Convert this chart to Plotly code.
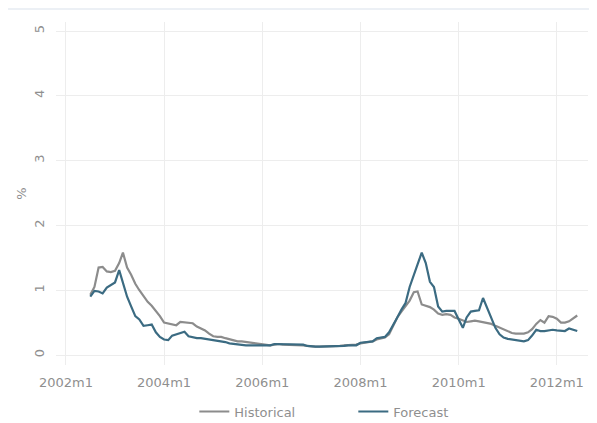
import plotly.graph_objects as go
import pandas as pd

start_month = "2002-07-01"
n_months = 120

historical = [
    0.93, 1.05, 1.35, 1.36, 1.29, 1.28, 1.30, 1.42, 1.58, 1.35,
    1.24, 1.10, 1.00, 0.90, 0.82, 0.76, 0.68, 0.60, 0.50, 0.49,
    0.48, 0.46, 0.51, 0.50, 0.50, 0.49, 0.44, 0.41, 0.38, 0.33,
    0.29, 0.28, 0.28, 0.26, 0.24, 0.22, 0.21, 0.21, 0.20, 0.19,
    0.18, 0.17, 0.16, 0.15, 0.15, 0.16, 0.17, 0.16, 0.16, 0.15,
    0.15, 0.16, 0.15, 0.14, 0.13, 0.13, 0.13, 0.13, 0.13, 0.14,
    0.14, 0.14, 0.15, 0.15, 0.15, 0.16, 0.18, 0.19, 0.20, 0.21,
    0.24, 0.26, 0.27, 0.32, 0.45, 0.58, 0.67, 0.76, 0.84, 0.97,
    0.98, 0.78, 0.76, 0.74, 0.70, 0.64, 0.62, 0.63, 0.62, 0.58,
    0.56, 0.54, 0.51, 0.52, 0.53, 0.52, 0.51, 0.50, 0.48, 0.45,
    0.42, 0.39, 0.37, 0.34, 0.33, 0.33, 0.33, 0.35, 0.40, 0.48,
    0.54, 0.50, 0.60, 0.59, 0.56, 0.50, 0.50, 0.52, 0.56, 0.61,
]

forecast = [
    0.90, 0.99, 0.98, 0.95, 1.04, 1.08, 1.12, 1.31, 1.10, 0.90,
    0.75, 0.60, 0.55, 0.45, 0.46, 0.47, 0.35, 0.28, 0.24, 0.23,
    0.30, 0.32, 0.33, 0.36, 0.29, 0.27, 0.26, 0.26, 0.25, 0.24,
    0.24, 0.23, 0.22, 0.20, 0.18, 0.17, 0.16, 0.15, 0.15, 0.15,
    0.15, 0.15, 0.15, 0.15, 0.15, 0.17, 0.17, 0.17, 0.16, 0.16,
    0.16, 0.17, 0.16, 0.14, 0.13, 0.13, 0.13, 0.13, 0.13, 0.13,
    0.13, 0.14, 0.14, 0.15, 0.15, 0.15, 0.19, 0.20, 0.20, 0.21,
    0.26, 0.27, 0.28, 0.35, 0.46, 0.58, 0.70, 0.80, 1.05, 1.25,
    1.40, 1.58, 1.42, 1.13, 1.05, 0.75, 0.67, 0.68, 0.68, 0.68,
    0.55, 0.42, 0.58, 0.67, 0.68, 0.69, 0.88, 0.72, 0.55, 0.42,
    0.32, 0.27, 0.25, 0.24, 0.23, 0.21, 0.21, 0.23, 0.30, 0.39,
    0.37, 0.37, 0.38, 0.39, 0.38, 0.37, 0.37, 0.41, 0.39, 0.37,
]

tick_dates = ["2002-01-01", "2004-01-01", "2006-01-01", "2008-01-01", "2010-01-01", "2012-01-01"]
tick_labels = ["2002m1", "2004m1", "2006m1", "2008m1", "2010m1", "2012m1"]
y_ticks = [0, 1, 2, 3, 4, 5]

dates = pd.date_range(start_month, periods=n_months, freq="MS")

FONT = "DejaVu Sans"
TXT = "#8f8f8f"
GRID = "#ededed"

fig = go.Figure()
fig.add_trace(go.Scatter(x=dates, y=historical, mode="lines", name="Historical",
                         line=dict(color="#8c8c8c", width=2.2)))
fig.add_trace(go.Scatter(x=dates, y=forecast, mode="lines", name="Forecast",
                         line=dict(color="#3b6b82", width=2.2)))

fig.update_layout(
    width=589, height=415,
    margin=dict(l=48, r=9, t=14, b=58, autoexpand=False),
    paper_bgcolor="white", plot_bgcolor="white",
    font=dict(family=FONT, size=13, color=TXT),
    showlegend=True,
    legend=dict(orientation="h", x=0.26, xanchor="left", y=-0.092, yanchor="top",
                font=dict(family=FONT, size=13, color=TXT),
                entrywidth=114, entrywidthmode="pixels"),
    xaxis=dict(type="date", range=["2001-10-19", "2012-08-20"],
               tickmode="array", tickvals=tick_dates, ticktext=tick_labels,
               showgrid=True, gridcolor=GRID, gridwidth=1.3, zeroline=False, showline=False,
               ticks="", ticklabelstandoff=8, automargin=False,
               tickfont=dict(size=13, color=TXT)),
    yaxis=dict(range=[-0.154, 5.14], tickmode="array", tickvals=y_ticks,
               tickangle=-90, showgrid=True, gridcolor=GRID, gridwidth=1.3,
               zeroline=False, showline=False, ticks="", automargin=False,
               ticklabelstandoff=8,
               tickfont=dict(size=13, color=TXT),
               title=dict(text="%", font=dict(size=13, color=TXT), standoff=2)),
    shapes=[dict(type="line", xref="paper", yref="paper",
                 x0=-48 / 532, x1=1 + 9 / 532, y0=1 + 13 / 343, y1=1 + 13 / 343,
                 line=dict(color="#e6ebf2", width=1.5))],
)

fig.write_html("out.html")
